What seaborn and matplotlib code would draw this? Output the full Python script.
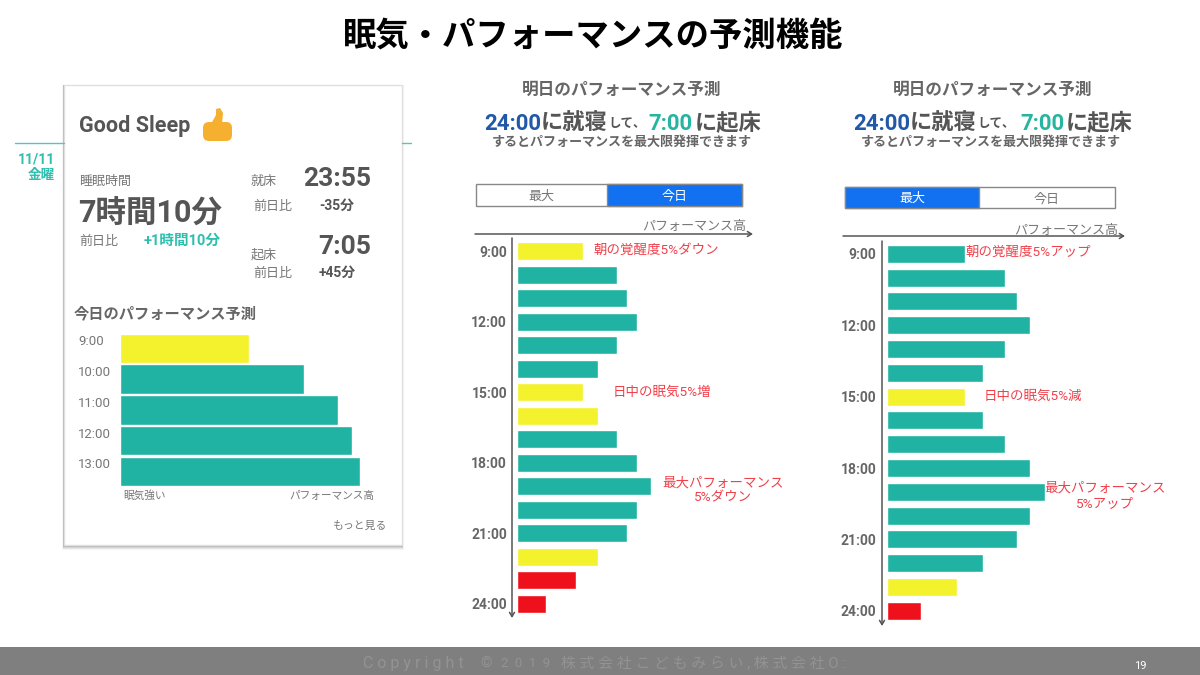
import matplotlib
matplotlib.use("Agg")
import matplotlib.pyplot as plt
import seaborn as sns
import pandas as pd
from matplotlib.patches import Rectangle, FancyBboxPatch, Polygon

# ---- data ----
hours = [f"{h}:00" for h in range(9, 25)]
card_hours = ["9:00", "10:00", "11:00", "12:00", "13:00"]
card_values = [129, 184, 218, 232, 240]
card_levels = ["y", "g", "g", "g", "g"]

today_values = [66, 100, 110, 120, 100, 81, 66, 81, 100, 120, 134, 120, 110, 81, 59, 29]
today_levels = ["y", "g", "g", "g", "g", "g", "y", "y", "g", "g", "g", "g", "g", "y", "r", "r"]

best_values = [78, 118, 130, 143, 118, 96, 78, 96, 118, 143, 158, 143, 130, 96, 70, 34]
best_levels = ["g", "g", "g", "g", "g", "g", "y", "g", "g", "g", "g", "g", "g", "g", "y", "r"]

palette = {"g": "#20b2a2", "y": "#f4f22c", "r": "#ee111b"}

TITLE = "眠気・パフォーマンスの予測機能"

sns.set_theme(style="white")
plt.rcParams["font.family"] = ["Roboto", "Noto Sans CJK JP", "DejaVu Sans"]

W, H = 1200, 675
fig = plt.figure(figsize=(12, 6.75), dpi=100, facecolor="white")
bg = fig.add_axes([0, 0, 1, 1], zorder=0)
bg.set_xlim(0, W)
bg.set_ylim(H, 0)
bg.axis("off")


def t(x, y, s, size=9.4, color="#777777", weight="normal", ha="left", va="center"):
    bg.text(x, y + size * 0.13, s, fontsize=size, color=color, fontweight=weight, ha=ha, va=va)


def arrow(x0, y0, x1, y1):
    bg.annotate("", xy=(x1, y1), xytext=(x0, y0),
                arrowprops=dict(arrowstyle="->,head_length=0.25,head_width=0.15",
                                color="#555555", lw=1.1, shrinkA=0, shrinkB=0))


def bars(values, levels, cats, left, top, pitch, bar_px, xmax):
    n = len(values)
    ax = fig.add_axes([left / W, 1 - (top + n * pitch) / H, xmax / W, n * pitch / H],
                      zorder=2, facecolor="none")
    df = pd.DataFrame({"hour": cats, "value": values, "level": levels})
    sns.barplot(data=df, y="hour", x="value", hue="level", palette=palette, order=cats,
                dodge=False, legend=False, width=bar_px / pitch, saturation=1, ax=ax)
    ax.set_xlim(0, xmax)
    ax.set_ylim(n - 0.5, -0.5)
    ax.set_xlabel("")
    ax.set_ylabel("")
    ax.set_xticks([])
    sns.despine(ax=ax, left=True, bottom=True)
    return ax


# title + footer
t(593, 33, TITLE, size=24, color="black", weight="bold", ha="center")
bg.add_patch(Rectangle((0, 647), W, 28, fc="#7f7f7f", ec="none"))
t(363, 662, "C o p y r i g h t", size=11.5, color="#939393")
t(480, 662, "©", size=10.5, color="#939393")
t(501, 662, "2  0  1  9", size=9.5, color="#939393")
t(561, 662, "株 式 会 社 こ ど も み ら い , 株 式 会 社 O :", size=10.7, color="#939393")
t(1140, 665, "19", size=8, color="white", ha="center")

# card
bg.plot([15, 64], [143, 143], color="#4fc9bd", lw=1)
bg.plot([402, 411], [143, 143], color="#4fc9bd", lw=1)
for d, a in [(5, .04), (4, .06), (3, .08), (2, .12), (1, .18)]:
    bg.add_patch(Rectangle((64 - d / 3, 85), 338 + 2 * d / 3, 460 + d, fc="black", alpha=a, ec="none"))
bg.add_patch(Rectangle((64, 85), 338, 460, fc="white", ec="#e0e0e0", lw=1))
t(55, 158, "11/11", size=10, color="#2fbfae", weight="bold", ha="right")
t(55, 174, "金曜", size=9.8, color="#2fbfae", weight="bold", ha="right")
t(79, 124, "Good Sleep", size=15.5, color="#555555", weight="bold")
bg.add_patch(FancyBboxPatch((205, 124), 25, 15, boxstyle="round,pad=2,rounding_size=6", fc="#f4b02e", ec="none"))
bg.add_patch(Polygon([(211, 124), (216, 115), (216, 109), (220, 108), (223, 113), (222, 124)], fc="#f4b02e", ec="none"))
t(79, 180, "睡眠時間")
t(78, 211, "7時間10分", size=22, color="#555555", weight="bold")
t(79, 240, "前日比")
t(144, 239, "+1時間10分", size=10.5, color="#2fbfae", weight="bold")
t(251, 180, "就床")
t(371, 177, "23:55", size=19, color="#555555", weight="bold", ha="right")
t(253, 205, "前日比")
t(319, 205, "-35分", size=10, color="#555555", weight="bold")
t(371, 245, "7:05", size=19, color="#555555", weight="bold", ha="right")
t(251, 254, "起床")
t(253, 272, "前日比")
t(319, 272, "+45分", size=10, color="#555555", weight="bold")
t(74, 313, "今日のパフォーマンス予測", size=11, color="#666666", weight="bold")
t(123, 495, "眠気強い", size=7.7)
t(374, 495, "パフォーマンス高", size=7.7, ha="right")
t(387, 525, "もっと見る", size=7.8, ha="right")

ax0 = bars(card_values, card_levels, card_hours, 120, 333.1, 30.7, 29.5, 260)
ax0.tick_params(axis="y", length=0, pad=30, labelsize=9.5, labelcolor="#777777")
for lab in ax0.get_yticklabels():
    lab.set_ha("left")
    lab.set_va("bottom")


def panel(cx, segs, sub_x, tog, tog_mid, tog_y, active_left, hi_x, hi_y, ay, ax_rng, vx, vy):
    t(cx, 89, "明日のパフォーマンス予測", size=12, color="#666666", weight="bold", ha="center")
    for x, s, sz, col in segs:
        t(x, 122, s, size=sz, color=col, weight="bold", va="center")
    t(sub_x, 141, "するとパフォーマンスを最大限発揮できます", size=9.4, color="#666666", weight="bold")
    x0, x1 = tog
    y0, y1 = tog_y
    bg.add_patch(Rectangle((x0, y0), x1 - x0, y1 - y0, fc="white", ec="#888888", lw=1))
    if active_left:
        bg.add_patch(Rectangle((x0, y0), tog_mid - x0, y1 - y0, fc="#1271f0", ec="#888888", lw=1))
    else:
        bg.add_patch(Rectangle((tog_mid, y0), x1 - tog_mid, y1 - y0, fc="#1271f0", ec="#888888", lw=1))
    ym = (y0 + y1) / 2
    t((x0 + tog_mid) / 2, ym, "最大", size=9.4, color="white" if active_left else "#777777", ha="center")
    t((tog_mid + x1) / 2, ym, "今日", size=9.4, color="#777777" if active_left else "white", ha="center")
    t(hi_x, hi_y, "パフォーマンス高", size=9.4, ha="right")
    arrow(ax_rng[0], ay, ax_rng[1], ay)
    arrow(vx, vy[0], vx, vy[1])


BLUE, TEAL, GREY = "#2158a8", "#25b5a0", "#555555"
panel(622, [(484, "24:00", 16, BLUE), (541, "に就寝", 16, GREY), (608, "して、", 9, GREY),
            (648, "7:00", 16, TEAL), (695, "に起床", 16, GREY)],
      492, (476, 742), 607, (184, 206), False, 746, 225, 234, (475, 753), 512, (238, 618))
panel(993, [(853, "24:00", 16, BLUE), (910, "に就寝", 16, GREY), (977, "して、", 9, GREY),
            (1020, "7:00", 16, TEAL), (1066, "に起床", 16, GREY)],
      861, (845, 1115), 979, (187, 208), True, 1118, 229, 236, (843, 1125), 882, (241, 626))

ax1 = bars(today_values, today_levels, hours, 517, 239.5, 23.5, 18, 150)
ax2 = bars(best_values, best_levels, hours, 887, 241.9, 23.8, 18, 170)
for ax, pad in [(ax1, 7.2), (ax2, 7.7)]:
    ax.set_yticks(range(0, 16, 3), hours[::3])
    ax.tick_params(axis="y", length=0, pad=pad, labelsize=10, labelcolor="#666666")
    for lab in ax.get_yticklabels():
        lab.set_fontweight("bold")

RED = "#f0404a"
t(594, 249, "朝の覚醒度5%ダウン", size=9.7, color=RED)
t(613, 391, "日中の眠気5%増", size=9.7, color=RED)
t(723, 482, "最大パフォーマンス", size=9.7, color=RED, ha="center")
t(723, 497, "5%ダウン", size=9.7, color=RED, ha="center")
t(966, 251, "朝の覚醒度5%アップ", size=9.7, color=RED)
t(984, 395, "日中の眠気5%減", size=9.7, color=RED)
t(1105, 487, "最大パフォーマンス", size=9.7, color=RED, ha="center")
t(1105, 503, "5%アップ", size=9.7, color=RED, ha="center")

fig.savefig("out.png", dpi=100)
